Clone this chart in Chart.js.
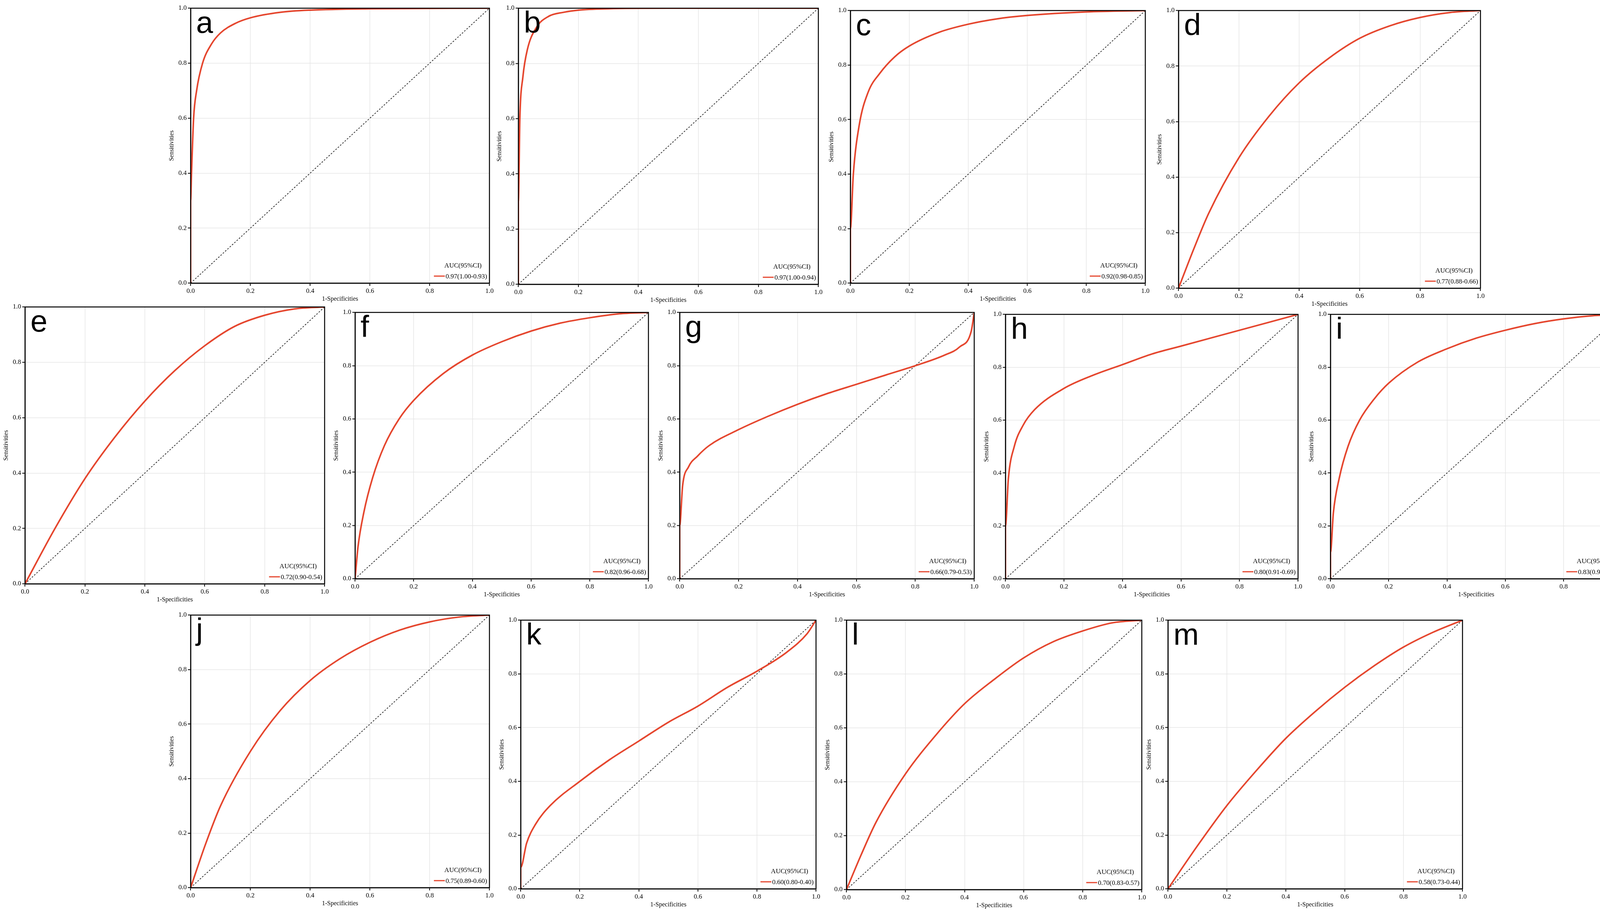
<!DOCTYPE html>
<html><head><meta charset="utf-8">
<script src="https://cdn.jsdelivr.net/npm/chart.js@4.4.0/dist/chart.umd.min.js"></script>
<style>body{margin:0;background:#fff;width:4179px;height:2343px;position:relative;overflow:hidden}div.p{position:absolute}</style>
</head><body>
<script>
const letters=['a','b','c','d','e','f','g','h','i','j','k','l','m'];
const aucLabels=['0.97(1.00-0.93)','0.97(1.00-0.94)','0.92(0.98-0.85)','0.77(0.88-0.66)','0.72(0.90-0.54)','0.82(0.96-0.68)','0.66(0.79-0.53)','0.80(0.91-0.69)','0.83(0.95-0.72)','0.75(0.89-0.60)','0.60(0.80-0.40)','0.70(0.83-0.57)','0.58(0.73-0.44)'];
const fprA=[0,0,0.003,0.01,0.02,0.04,0.07,0.1,0.15,0.2,0.3,0.4,0.6,1];
const tprA=[0,0.3,0.4,0.6,0.7,0.8,0.87,0.91,0.945,0.965,0.985,0.993,0.998,1];
const fprB=[0,0,0.005,0.015,0.03,0.06,0.1,0.15,0.2,0.3,0.5,1];
const tprB=[0,0.3,0.6,0.75,0.85,0.93,0.97,0.985,0.993,0.998,1,1];
const fprC=[0,0,0.01,0.03,0.06,0.1,0.15,0.2,0.3,0.4,0.5,0.6,0.8,1];
const tprC=[0,0.2,0.4,0.58,0.7,0.77,0.83,0.87,0.92,0.95,0.97,0.982,0.995,1];
const fprD=[0,0.05,0.1,0.2,0.3,0.4,0.5,0.6,0.7,0.8,0.9,1];
const tprD=[0,0.14,0.27,0.47,0.62,0.74,0.83,0.9,0.945,0.975,0.993,1];
const fprE=[0,0.1,0.2,0.3,0.4,0.5,0.6,0.7,0.8,0.9,1];
const tprE=[0,0.2,0.38,0.53,0.66,0.77,0.86,0.93,0.97,0.993,1];
const fprF=[0,0.01,0.03,0.06,0.1,0.15,0.2,0.3,0.4,0.5,0.6,0.7,0.8,0.9,1];
const tprF=[0,0.12,0.25,0.38,0.5,0.6,0.67,0.77,0.84,0.89,0.93,0.96,0.98,0.995,1];
const fprG=[0,0,0.01,0.03,0.06,0.1,0.2,0.3,0.4,0.5,0.6,0.7,0.8,0.9,0.95,0.99,1];
const tprG=[0,0.2,0.35,0.42,0.46,0.5,0.56,0.61,0.655,0.695,0.73,0.765,0.8,0.84,0.87,0.93,1];
const fprH=[0,0,0.01,0.03,0.06,0.1,0.2,0.3,0.4,0.5,0.6,0.7,0.8,0.9,1];
const tprH=[0,0.2,0.38,0.5,0.58,0.64,0.72,0.77,0.81,0.85,0.88,0.91,0.94,0.97,1];
const fprI=[0,0,0.01,0.03,0.06,0.1,0.15,0.2,0.3,0.4,0.5,0.6,0.7,0.8,0.9,1];
const tprI=[0,0.1,0.25,0.38,0.5,0.6,0.68,0.74,0.82,0.87,0.91,0.94,0.965,0.983,0.995,1];
const fprJ=[0,0.05,0.1,0.2,0.3,0.4,0.5,0.6,0.7,0.8,0.9,1];
const tprJ=[0,0.16,0.3,0.5,0.65,0.76,0.84,0.9,0.945,0.975,0.993,1];
const fprK=[0,0,0.02,0.05,0.1,0.2,0.3,0.4,0.5,0.6,0.7,0.8,0.9,0.97,1];
const tprK=[0,0.08,0.17,0.24,0.31,0.4,0.48,0.55,0.62,0.68,0.75,0.81,0.88,0.95,1];
const fprL=[0,0.05,0.1,0.2,0.3,0.4,0.5,0.6,0.7,0.8,0.9,1];
const tprL=[0,0.13,0.25,0.43,0.57,0.69,0.78,0.86,0.92,0.96,0.99,1];
const fprM=[0,0.1,0.2,0.3,0.4,0.5,0.6,0.7,0.8,0.9,1];
const tprM=[0,0.16,0.31,0.44,0.56,0.66,0.75,0.83,0.9,0.955,1];
const fprs=[fprA,fprB,fprC,fprD,fprE,fprF,fprG,fprH,fprI,fprJ,fprK,fprL,fprM];
const tprs=[tprA,tprB,tprC,tprD,tprE,tprF,tprG,tprH,tprI,tprJ,tprK,tprL,tprM];
const tickValues=[0,0.2,0.4,0.6,0.8,1.0];
// plot-area boxes [left, top, width, height]
const boxes=[[488,21,765,704],[1327,21,768,707],[2177,27,755,698],[3017,27,773,711],
[64,786,767,709],[909,800,751,682],[1740,800,754,682],[2574,805,749,677],[3406,805,746,677],
[488,1575,765,698],[1333,1588,756,688],[2167,1588,756,690],[2990,1588,754,688]];
const YW=58, XH=50, PT=14, PR=22;
const RED='#e5462e';
const deco={id:'deco',afterDraw(c,args,o){
  const ctx=c.ctx,a=c.chartArea;ctx.save();
  ctx.strokeStyle='#000';ctx.lineWidth=2.5;ctx.strokeRect(a.left,a.top,a.right-a.left,a.bottom-a.top);
  ctx.fillStyle='#000';ctx.font='78px "Liberation Sans", Arial';ctx.textBaseline='top';ctx.textAlign='left';
  ctx.fillText(o.letter,a.left+14,a.top+2);
  ctx.font='17px "Liberation Serif", serif';ctx.textAlign='right';ctx.textBaseline='alphabetic';
  ctx.fillText('AUC(95%CI)',a.right-20,a.bottom-40);
  ctx.fillText(o.label,a.right-6,a.bottom-12);
  const w=ctx.measureText(o.label).width;
  ctx.strokeStyle=RED;ctx.lineWidth=3;ctx.beginPath();
  ctx.moveTo(a.right-6-w-30,a.bottom-18);ctx.lineTo(a.right-8-w,a.bottom-18);ctx.stroke();
  ctx.restore();}};
boxes.forEach((b,i)=>{
  const d=document.createElement('div');d.className='p';
  const W=b[2]+YW+PR,H=b[3]+PT+XH;
  d.style.left=(b[0]-YW)+'px';d.style.top=(b[1]-PT)+'px';d.style.width=W+'px';d.style.height=H+'px';
  const cv=document.createElement('canvas');d.appendChild(cv);document.body.appendChild(d);
  const pts=fprs[i].map((x,k)=>({x:x,y:tprs[i][k]}));
  const tickFont={family:'"Liberation Serif", serif',size:17};
  const axis=(title,isX)=>({type:'linear',min:0,max:1,
    afterBuildTicks:s=>{s.ticks=tickValues.map(v=>({value:v}));},
    afterFit:s=>{if(isX)s.height=XH;else s.width=YW;},
    ticks:{color:'#000',font:tickFont,callback:v=>Number(v).toFixed(1),padding:3,maxRotation:0,autoSkip:false},
    grid:{color:'#e6e6e6',lineWidth:1.5,tickColor:'#000',tickLength:7,tickWidth:2},
    border:{color:'#000',width:2.5},
    title:{display:true,text:title,color:'#000',font:{family:'"Liberation Serif", serif',size:16},padding:{top:0,bottom:0}}});
  new Chart(cv,{type:'scatter',data:{datasets:[
    {data:pts,showLine:true,borderColor:RED,borderWidth:4,pointRadius:0,cubicInterpolationMode:'monotone',order:1},
    {data:[{x:0,y:0},{x:1,y:1}],showLine:true,borderColor:'#222',borderWidth:1.8,borderDash:[4,4],pointRadius:0,order:2}]},
    options:{responsive:true,maintainAspectRatio:false,animation:false,devicePixelRatio:1,
      layout:{padding:{top:PT,right:PR,left:0,bottom:0}},
      plugins:{legend:{display:false},tooltip:{enabled:false},deco:{letter:letters[i],label:aucLabels[i]}},
      scales:{x:axis('1-Specificities',true),y:axis('Sensitivities',false)}},
    plugins:[deco]});
});
</script>
</body></html>
